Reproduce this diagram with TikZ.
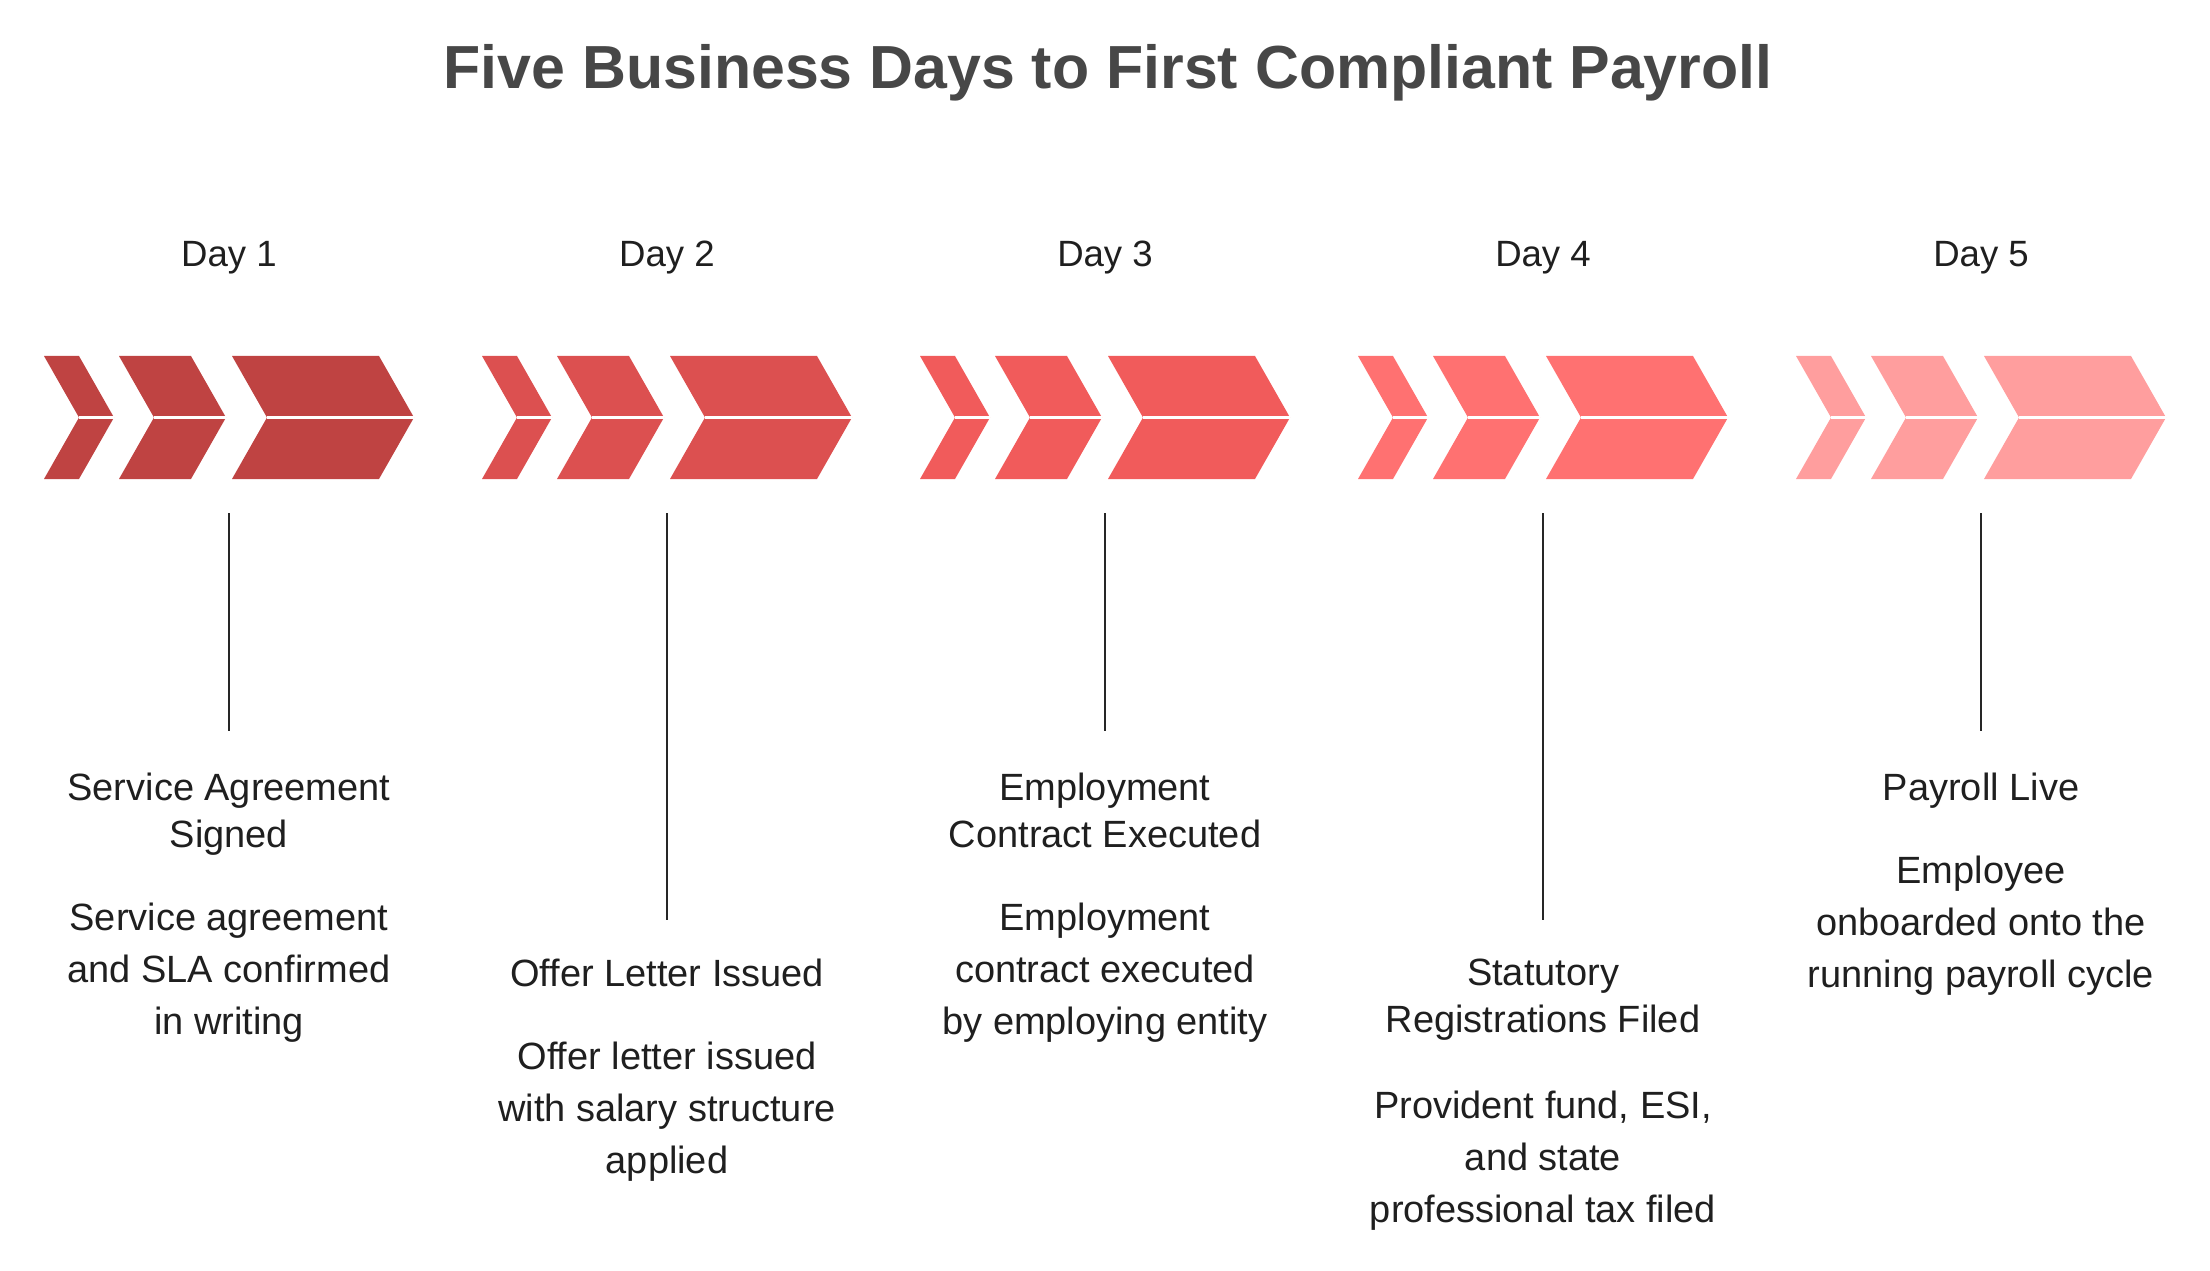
\documentclass[tikz,border=0pt]{standalone}
\usepackage{fontspec}
\setmainfont{Liberation Sans}
\usetikzlibrary{positioning}

\definecolor{dayone}{HTML}{BF4342}
\definecolor{daytwo}{HTML}{DC5050}
\definecolor{daythree}{HTML}{F15B5B}
\definecolor{dayfour}{HTML}{FF7171}
\definecolor{dayfive}{HTML}{FF9E9E}
\definecolor{ink}{HTML}{1F1F1F}
\definecolor{heading}{HTML}{474747}

\begin{document}
\begin{tikzpicture}[x=0.01cm,y=-0.01cm,
  daylabel/.style={anchor=base,text=ink,font=\fontsize{10.4}{12.5}\selectfont},
  milestone/.style={anchor=north,align=center,inner sep=0pt,text=ink,font=\fontsize{10.8}{13.3}\selectfont},
  detail/.style={anchor=north,align=center,inner sep=0pt,text=ink,font=\fontsize{10.8}{14.8}\selectfont},
  stem/.style={draw=black!85,line width=0.6pt,shorten >=0.41cm}]
\useasboundingbox (0,0) rectangle (2210,1270);

\node[anchor=base,text=heading,font=\fontsize{17.3}{20}\selectfont\bfseries] (title) at (1108,89) {Five Business Days to First Compliant Payroll};

% chevrons, three per day
\foreach \i/\c in {0/dayone,1/daytwo,2/daythree,3/dayfour,4/dayfive}{
  \begin{scope}[shift={(44+\i*438,0)}]
    \foreach \l/\r in {0/35,75/147,188/335}{
      \fill[\c] (\l,356) -- (\r,356) -- (\r+35,417.5) -- (\r,479) -- (\l,479) -- (\l+35,417.5) -- cycle;
      \draw[white,line width=0.6pt] (\l+35,417.5) -- (\r+35,417.5);
    }
  \end{scope}
}

\node[daylabel] (d1) at (229,267) {Day 1};
\node[daylabel] (d2) at (667,267) {Day 2};
\node[daylabel] (d3) at (1105,267) {Day 3};
\node[daylabel] (d4) at (1543,267) {Day 4};
\node[daylabel] (d5) at (1981,267) {Day 5};

\coordinate (top1) at (229,513);
\coordinate (top2) at (667,513);
\coordinate (top3) at (1105,513);
\coordinate (top4) at (1543,513);
\coordinate (top5) at (1981,513);

\node[milestone] (m1) at (229,772) {Service Agreement\\Signed};
\node[milestone] (m2) at (667,958) {Offer Letter Issued};
\node[milestone] (m3) at (1105,772) {Employment\\Contract Executed};
\node[milestone] (m4) at (1543,958) {Statutory\\Registrations Filed};
\node[milestone] (m5) at (1981,772) {Payroll Live};

\node[detail] (n1) at (229,902) {Service agreement\\and SLA confirmed\\in writing};
\node[detail] (n2) at (667,1041) {Offer letter issued\\with salary structure\\applied};
\node[detail] (n3) at (1105,902) {Employment\\contract executed\\by employing entity};
\node[detail] (n4) at (1543,1090) {Provident fund, ESI,\\and state\\professional tax filed};
\node[detail] (n5) at (1981,855) {Employee\\onboarded onto the\\running payroll cycle};

\draw[stem] (top1) -- (m1.north);
\draw[stem,shorten >=0.38cm] (top2) -- (m2.north);
\draw[stem] (top3) -- (m3.north);
\draw[stem,shorten >=0.38cm] (top4) -- (m4.north);
\draw[stem] (top5) -- (m5.north);
\end{tikzpicture}
\end{document}
